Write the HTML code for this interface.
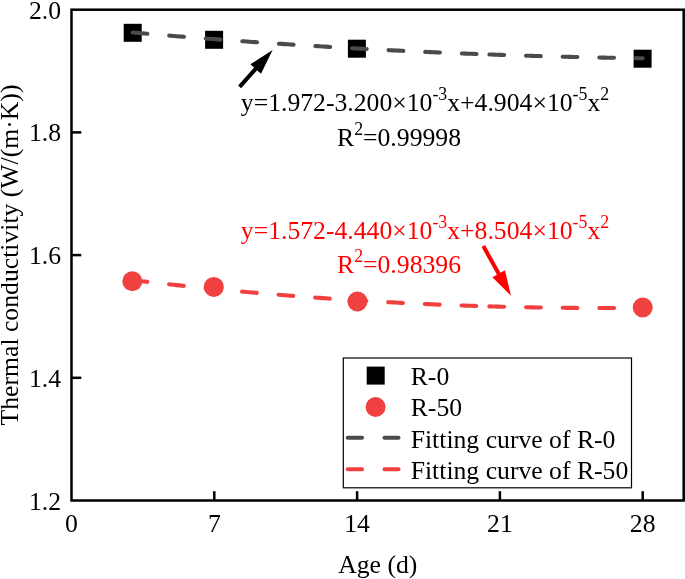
<!DOCTYPE html>
<html><head><meta charset="utf-8"><title>Thermal conductivity vs Age</title>
<style>
html,body{margin:0;padding:0;background:#fff;}
svg{display:block;}
text{font-family:"Liberation Serif","Times New Roman",serif;font-size:25.7px;fill:#000;}
.sup{font-size:17.8px;}
.red{fill:#ff0000;}
</style></head><body>
<svg width="685" height="579" viewBox="0 0 685 579">
<rect width="685" height="579" fill="#fff"/>

<rect x="123.7" y="23.8" width="18" height="18" fill="#000"/>
<rect x="205.1" y="30.8" width="18" height="18" fill="#000"/>
<rect x="347.9" y="39.7" width="18" height="18" fill="#000"/>
<rect x="633.6" y="49.7" width="18" height="18" fill="#000"/>
<polyline points="132.70,32.50 135.62,32.75 138.54,33.00 141.46,33.26 144.39,33.51 147.31,33.76 150.23,34.01 153.15,34.25 156.07,34.50 158.99,34.74 161.91,34.99 164.84,35.23 167.76,35.47 170.68,35.71 173.60,35.95 176.52,36.19 179.44,36.42 182.37,36.66 185.29,36.89 188.21,37.12 191.13,37.36 194.05,37.59 196.97,37.81 199.89,38.04 202.82,38.27 205.74,38.49 208.66,38.72 211.58,38.94 214.50,39.16 217.42,39.38 220.34,39.60 223.27,39.82 226.19,40.03 229.11,40.25 232.03,40.46 234.95,40.68 237.87,40.89 240.80,41.10 243.72,41.31 246.64,41.51 249.56,41.72 252.48,41.93 255.40,42.13 258.32,42.33 261.25,42.54 264.17,42.74 267.09,42.93 270.01,43.13 272.93,43.33 275.85,43.52 278.77,43.72 281.70,43.91 284.62,44.10 287.54,44.29 290.46,44.48 293.38,44.67 296.30,44.86 299.23,45.04 302.15,45.23 305.07,45.41 307.99,45.59 310.91,45.77 313.83,45.95 316.75,46.13 319.68,46.31 322.60,46.48 325.52,46.66 328.44,46.83 331.36,47.00 334.28,47.17 337.20,47.34 340.13,47.51 343.05,47.68 345.97,47.85 348.89,48.01 351.81,48.17 354.73,48.34 357.66,48.50 360.58,48.66 363.50,48.81 366.42,48.97 369.34,49.13 372.26,49.28 375.18,49.44 378.11,49.59 381.03,49.74 383.95,49.89 386.87,50.04 389.79,50.18 392.71,50.33 395.63,50.48 398.56,50.62 401.48,50.76 404.40,50.90 407.32,51.04 410.24,51.18 413.16,51.32 416.09,51.46 419.01,51.59 421.93,51.72 424.85,51.86 427.77,51.99 430.69,52.12 433.61,52.25 436.54,52.37 439.46,52.50 442.38,52.63 445.30,52.75 448.22,52.87 451.14,52.99 454.06,53.11 456.99,53.23 459.91,53.35 462.83,53.47 465.75,53.58 468.67,53.70 471.59,53.81 474.52,53.92 477.44,54.03 480.36,54.14 483.28,54.25" fill="none" stroke="#4b4b4b" stroke-width="4.1" stroke-linecap="round" stroke-dasharray="14.7 21.95"/>
<polyline points="489.40,54.47 490.68,54.51 491.95,54.56 493.23,54.61 494.51,54.65 495.79,54.70 497.06,54.74 498.34,54.78 499.62,54.83 500.90,54.87 502.17,54.91 503.45,54.96 504.73,55.00 506.01,55.04 507.28,55.09 508.56,55.13 509.84,55.17 511.12,55.21 512.39,55.25 513.67,55.30 514.95,55.34 516.23,55.38 517.50,55.42 518.78,55.46 520.06,55.50 521.34,55.54 522.62,55.58 523.89,55.62 525.17,55.66 526.45,55.70 527.72,55.74 529.00,55.77 530.28,55.81 531.56,55.85 532.83,55.89 534.11,55.93 535.39,55.96 536.67,56.00 537.94,56.04 539.22,56.07 540.50,56.11 541.78,56.15 543.05,56.18 544.33,56.22 545.61,56.25 546.89,56.29 548.16,56.32 549.44,56.36 550.72,56.39 552.00,56.43 553.27,56.46 554.55,56.50 555.83,56.53 557.11,56.56 558.38,56.60 559.66,56.63 560.94,56.66 562.22,56.69 563.49,56.73 564.77,56.76 566.05,56.79 567.33,56.82 568.61,56.85 569.88,56.88 571.16,56.91 572.44,56.94 573.71,56.97 574.99,57.00 576.27,57.03 577.55,57.06 578.82,57.09 580.10,57.12 581.38,57.15 582.66,57.18 583.93,57.21 585.21,57.24 586.49,57.26 587.77,57.29 589.04,57.32 590.32,57.35 591.60,57.37 592.88,57.40 594.15,57.43 595.43,57.45 596.71,57.48 597.99,57.51 599.26,57.53 600.54,57.56 601.82,57.58 603.10,57.61 604.38,57.63 605.65,57.66 606.93,57.68 608.21,57.70 609.48,57.73 610.76,57.75 612.04,57.77 613.32,57.80 614.59,57.82 615.87,57.84 617.15,57.86 618.43,57.89 619.71,57.91 620.98,57.93 622.26,57.95 623.54,57.97 624.81,57.99 626.09,58.01 627.37,58.03 628.65,58.05 629.92,58.07 631.20,58.09 632.48,58.11 633.76,58.13 635.03,58.15 636.31,58.17 637.59,58.19 638.87,58.21 640.14,58.22 641.42,58.24 642.70,58.26" fill="none" stroke="#4b4b4b" stroke-width="4.1" stroke-linecap="round" stroke-dasharray="14.7 21.95"/>

<circle cx="132.3" cy="281.3" r="10" fill="#f14040"/>
<circle cx="213.8" cy="286.9" r="10" fill="#f14040"/>
<circle cx="357.4" cy="301.5" r="10" fill="#f14040"/>
<circle cx="642.7" cy="307.5" r="10" fill="#f14040"/>
<polyline points="132.70,280.16 135.62,280.51 138.54,280.85 141.46,281.19 144.39,281.53 147.31,281.86 150.23,282.20 153.15,282.53 156.07,282.86 158.99,283.19 161.91,283.51 164.84,283.83 167.76,284.15 170.68,284.47 173.60,284.79 176.52,285.10 179.44,285.41 182.37,285.72 185.29,286.03 188.21,286.34 191.13,286.64 194.05,286.94 196.97,287.24 199.89,287.54 202.82,287.83 205.74,288.13 208.66,288.42 211.58,288.71 214.50,288.99 217.42,289.28 220.34,289.56 223.27,289.84 226.19,290.12 229.11,290.39 232.03,290.67 234.95,290.94 237.87,291.21 240.80,291.47 243.72,291.74 246.64,292.00 249.56,292.26 252.48,292.52 255.40,292.78 258.32,293.03 261.25,293.28 264.17,293.53 267.09,293.78 270.01,294.03 272.93,294.27 275.85,294.51 278.77,294.75 281.70,294.99 284.62,295.22 287.54,295.46 290.46,295.69 293.38,295.92 296.30,296.14 299.23,296.37 302.15,296.59 305.07,296.81 307.99,297.03 310.91,297.24 313.83,297.46 316.75,297.67 319.68,297.88 322.60,298.09 325.52,298.29 328.44,298.49 331.36,298.69 334.28,298.89 337.20,299.09 340.13,299.28 343.05,299.48 345.97,299.67 348.89,299.85 351.81,300.04 354.73,300.22 357.66,300.41 360.58,300.59 363.50,300.76 366.42,300.94 369.34,301.11 372.26,301.28 375.18,301.45 378.11,301.62 381.03,301.78 383.95,301.94 386.87,302.10 389.79,302.26 392.71,302.42 395.63,302.57 398.56,302.72 401.48,302.87 404.40,303.02 407.32,303.16 410.24,303.31 413.16,303.45 416.09,303.59 419.01,303.72 421.93,303.86 424.85,303.99 427.77,304.12 430.69,304.25 433.61,304.38 436.54,304.50 439.46,304.62 442.38,304.74 445.30,304.86 448.22,304.97 451.14,305.09 454.06,305.20 456.99,305.31 459.91,305.41 462.83,305.52 465.75,305.62 468.67,305.72 471.59,305.82 474.52,305.91 477.44,306.01 480.36,306.10 483.28,306.19" fill="none" stroke="#f14040" stroke-width="4.1" stroke-linecap="round" stroke-dasharray="14.7 21.95"/>
<polyline points="489.40,306.37 490.68,306.41 491.95,306.44 493.23,306.48 494.51,306.51 495.79,306.55 497.06,306.58 498.34,306.62 499.62,306.65 500.90,306.68 502.17,306.72 503.45,306.75 504.73,306.78 506.01,306.81 507.28,306.84 508.56,306.87 509.84,306.90 511.12,306.93 512.39,306.96 513.67,306.99 514.95,307.02 516.23,307.05 517.50,307.08 518.78,307.11 520.06,307.13 521.34,307.16 522.62,307.19 523.89,307.21 525.17,307.24 526.45,307.26 527.72,307.29 529.00,307.31 530.28,307.33 531.56,307.36 532.83,307.38 534.11,307.40 535.39,307.43 536.67,307.45 537.94,307.47 539.22,307.49 540.50,307.51 541.78,307.53 543.05,307.55 544.33,307.57 545.61,307.59 546.89,307.61 548.16,307.63 549.44,307.64 550.72,307.66 552.00,307.68 553.27,307.69 554.55,307.71 555.83,307.73 557.11,307.74 558.38,307.76 559.66,307.77 560.94,307.78 562.22,307.80 563.49,307.81 564.77,307.82 566.05,307.84 567.33,307.85 568.61,307.86 569.88,307.87 571.16,307.88 572.44,307.89 573.71,307.90 574.99,307.91 576.27,307.92 577.55,307.93 578.82,307.94 580.10,307.94 581.38,307.95 582.66,307.96 583.93,307.97 585.21,307.97 586.49,307.98 587.77,307.98 589.04,307.99 590.32,307.99 591.60,308.00 592.88,308.00 594.15,308.00 595.43,308.01 596.71,308.01 597.99,308.01 599.26,308.01 600.54,308.02 601.82,308.02 603.10,308.02 604.38,308.02 605.65,308.02 606.93,308.02 608.21,308.01 609.48,308.01 610.76,308.01 612.04,308.01 613.32,308.01 614.59,308.00 615.87,308.00 617.15,308.00 618.43,307.99 619.71,307.99 620.98,307.98 622.26,307.98 623.54,307.97 624.81,307.96 626.09,307.96 627.37,307.95 628.65,307.94 629.92,307.93 631.20,307.92 632.48,307.92 633.76,307.91 635.03,307.90 636.31,307.89 637.59,307.88 638.87,307.86 640.14,307.85 641.42,307.84 642.70,307.83" fill="none" stroke="#f14040" stroke-width="4.1" stroke-linecap="round" stroke-dasharray="14.7 21.95"/>

<rect x="71.5" y="9.7" width="612.2" height="490.8" fill="none" stroke="#000" stroke-width="2.5"/>
<line x1="71.5" y1="377.8" x2="81.3" y2="377.8" stroke="#000" stroke-width="2.5"/>
<line x1="71.5" y1="255.1" x2="81.3" y2="255.1" stroke="#000" stroke-width="2.5"/>
<line x1="71.5" y1="132.4" x2="81.3" y2="132.4" stroke="#000" stroke-width="2.5"/>
<line x1="214.3" y1="500.5" x2="214.3" y2="491.2" stroke="#000" stroke-width="2.5"/>
<line x1="357.1" y1="500.5" x2="357.1" y2="491.2" stroke="#000" stroke-width="2.5"/>
<line x1="499.9" y1="500.5" x2="499.9" y2="491.2" stroke="#000" stroke-width="2.5"/>
<line x1="642.7" y1="500.5" x2="642.7" y2="491.2" stroke="#000" stroke-width="2.5"/>
<text x="61.1" y="509.5" text-anchor="end">1.2</text>
<text x="61.1" y="386.8" text-anchor="end">1.4</text>
<text x="61.1" y="264.1" text-anchor="end">1.6</text>
<text x="61.1" y="141.4" text-anchor="end">1.8</text>
<text x="61.1" y="18.7" text-anchor="end">2.0</text>
<text x="71.5" y="531.5" text-anchor="middle">0</text>
<text x="214.3" y="531.5" text-anchor="middle">7</text>
<text x="357.1" y="531.5" text-anchor="middle">14</text>
<text x="499.9" y="531.5" text-anchor="middle">21</text>
<text x="642.7" y="531.5" text-anchor="middle">28</text>
<text x="377.8" y="572.7" text-anchor="middle">Age (d)</text>
<text transform="translate(18.2,255) rotate(-90)" text-anchor="middle">Thermal conductivity (W/(m·K))</text>
<text x="240.8" y="110.7" class="blk">y=1.972-3.200×10<tspan class="sup" dy="-10.8">-3</tspan><tspan dy="10.8">x+4.904×10</tspan><tspan class="sup" dy="-10.8">-5</tspan><tspan dy="10.8">x</tspan><tspan class="sup" dy="-10.8">2</tspan></text>
<text x="337" y="145.8">R<tspan class="sup" dy="-10.8">2</tspan><tspan dy="10.8">=0.99998</tspan></text>
<text x="240.8" y="238.8" class="red">y=1.572-4.440×10<tspan class="sup" dy="-10.8">-3</tspan><tspan dy="10.8">x+8.504×10</tspan><tspan class="sup" dy="-10.8">-5</tspan><tspan dy="10.8">x</tspan><tspan class="sup" dy="-10.8">2</tspan></text>
<text x="337" y="273.2" class="red">R<tspan class="sup" dy="-10.8">2</tspan><tspan dy="10.8">=0.98396</tspan></text>
<line x1="239.6" y1="86.9" x2="257.0" y2="67.4" stroke="#000" stroke-width="4"/><polygon points="272.6,50.1 261.0,73.7 250.4,64.2" fill="#000"/>
<line x1="483.3" y1="246.1" x2="499.7" y2="275.4" stroke="#ff0000" stroke-width="4"/><polygon points="511.0,295.8 492.4,277.2 504.9,270.2" fill="#ff0000"/>
<rect x="343.3" y="358" width="288.2" height="129.8" fill="#fff" stroke="#000" stroke-width="1.2"/>
<rect x="366.7" y="366.6" width="18" height="18" fill="#000"/>
<circle cx="375.6" cy="407" r="10" fill="#f14040"/>
<line x1="347.8" y1="437.8" x2="398.5" y2="437.8" stroke="#4b4b4b" stroke-width="4.1" stroke-linecap="round" stroke-dasharray="14.2 22.5"/>
<line x1="347.8" y1="469.3" x2="398.5" y2="469.3" stroke="#f14040" stroke-width="4.1" stroke-linecap="round" stroke-dasharray="14.2 22.5"/>
<text x="410.7" y="384.5">R-0</text>
<text x="410.7" y="416.1">R-50</text>
<text x="410.7" y="447.7">Fitting curve of R-0</text>
<text x="410.7" y="479.3">Fitting curve of R-50</text>
</svg></body></html>
